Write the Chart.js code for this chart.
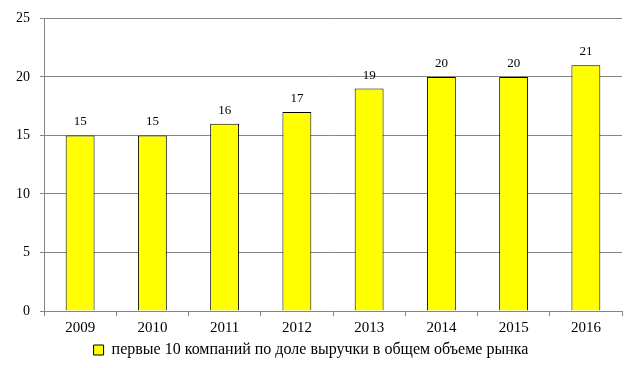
<!DOCTYPE html>
<html>
<head>
<meta charset="utf-8">
<script src="https://cdn.jsdelivr.net/npm/chart.js@4"></script>
<style>
  html, body { margin: 0; padding: 0; background: #fff; }
  #wrap { width: 625px; height: 368px; }
</style>
</head>
<body>
<div id="wrap"><canvas id="chart"></canvas></div>
<script>
// Data
const years = ['2009', '2010', '2011', '2012', '2013', '2014', '2015', '2016'];
const topTenShare = [15, 15, 16, 17, 19, 20, 20, 21];
const seriesLabel = 'первые 10 компаний по доле выручки в общем объеме рынка';

const FONT = '"Liberation Serif", "Times New Roman", serif';
const AXIS_GRAY = '#868686';

// Value labels above the bars
const barValues = {
    id: 'barValues',
    afterDatasetsDraw(chart) {
        const ctx = chart.ctx;
        ctx.save();
        ctx.font = '13px ' + FONT;
        ctx.fillStyle = '#000';
        ctx.textAlign = 'center';
        ctx.textBaseline = 'bottom';
        chart.getDatasetMeta(0).data.forEach((bar, i) => {
            ctx.fillText(String(topTenShare[i]), bar.x, bar.y - 7);
        });
        ctx.restore();
    }
};

new Chart(document.getElementById('chart'), {
    type: 'bar',
    data: {
        labels: years,
        datasets: [{
            label: seriesLabel,
            data: topTenShare,
            backgroundColor: '#FFFF00',
            borderColor: '#000',
            borderWidth: 1,
            categoryPercentage: 1,
            barPercentage: 0.4
        }]
    },
    options: {
        responsive: true,
        maintainAspectRatio: false,
        animation: false,
        layout: { padding: { top: 17, right: 3, left: 0, bottom: 0 } },
        plugins: {
            tooltip: { enabled: false },
            legend: {
                position: 'bottom',
                labels: {
                    font: { family: FONT, size: 16 },
                    color: '#000',
                    boxWidth: 10,
                    boxHeight: 10,
                    padding: 2,
                    generateLabels: (chart) => [{
                        text: seriesLabel,
                        fillStyle: '#FFFF00',
                        strokeStyle: '#000',
                        lineWidth: 1,
                        datasetIndex: 0
                    }]
                }
            }
        },
        scales: {
            x: {
                afterFit: (scale) => { scale.height = 29; },
                grid: {
                    offset: true,
                    drawOnChartArea: false,
                    drawTicks: true,
                    tickLength: 5,
                    color: AXIS_GRAY
                },
                border: { color: AXIS_GRAY },
                ticks: {
                    font: { family: FONT, size: 15 },
                    color: '#000',
                    padding: 3,
                    maxRotation: 0
                }
            },
            y: {
                min: 0,
                max: 25,
                afterFit: (scale) => { scale.width = 44; },
                grid: {
                    color: AXIS_GRAY,
                    tickLength: 4
                },
                border: { color: AXIS_GRAY },
                ticks: {
                    stepSize: 5,
                    font: { family: FONT, size: 14 },
                    color: '#000',
                    padding: 10
                }
            }
        }
    },
    plugins: [barValues]
});
</script>
</body>
</html>
